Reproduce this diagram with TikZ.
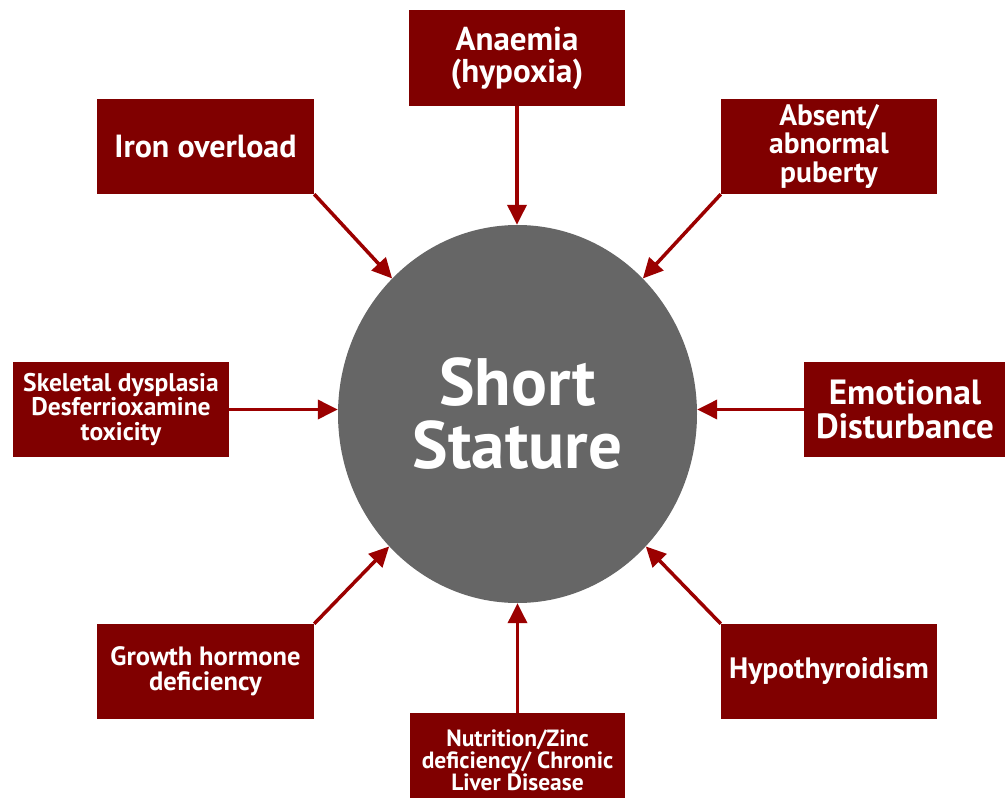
\documentclass[tikz,border=0pt]{standalone}
\usepackage{fontspec}
\setmainfont{PT Sans}
\usetikzlibrary{shapes.geometric,arrows.meta}
\definecolor{boxred}{RGB}{128,0,0}
\definecolor{arrred}{RGB}{155,0,0}
\definecolor{circgray}{RGB}{102,102,102}
\begin{document}
\begin{tikzpicture}[x=1pt,y=-1pt,
  cause/.style={fill=boxred, text=white, align=center, inner sep=0pt},
  arr/.style={draw=arrred, line width=3.5pt, -{Triangle[length=20pt,width=19pt]}},
  fs/.style 2 args={font=\fontsize{#1}{#2}\selectfont\bfseries}]
\clip (0,0) rectangle (1005,798);
\node[ellipse, fill=circgray, minimum width=359pt, minimum height=378pt, inner sep=0pt,
      text=white, align=center, fs={67}{63}] (ss) at (517.5,414) {Short\\Stature};
\node[cause, fs={33}{32}, minimum width=216pt, minimum height=96pt] (anaemia) at (517,58) {Anaemia\\(hypoxia)};
\node[cause, fs={32}{32}, minimum width=217pt, minimum height=95pt] (iron) at (205.5,146.5) {Iron overload};
\node[cause, fs={29.5}{28.5}, minimum width=216pt, minimum height=95pt] (absent) at (829,146.5) {Absent/\\abnormal\\puberty};
\node[cause, fs={25.5}{24.5}, minimum width=216pt, minimum height=95pt] (skel) at (121,409.5) {Skeletal dysplasia\\Desferrioxamine\\toxicity};
\node[cause, fs={35}{34}, minimum width=202pt, minimum height=95pt] (emot) at (905,409.5) {Emotional\\Disturbance};
\node[cause, fs={26.5}{25}, minimum width=217pt, minimum height=95pt] (growth) at (205.5,671.5) {Growth hormone\\deficiency};
\node[cause, fs={29.5}{29}, minimum width=216pt, minimum height=95pt] (hypo) at (829,671.5) {Hypothyroidism};
\node[cause, fs={23.5}{21.5}, minimum width=215pt, minimum height=95pt] (nutr) at (517.5,760.5) {Nutrition/Zinc\\deficiency/ Chronic\\Liver Disease};
\draw[arr] (anaemia.south) -- (anaemia.south |- ss.north);
\draw[arr] (iron.south east) -- (ss);
\draw[arr] (absent.south west) -- (ss);
\draw[arr] (skel.east) -- (skel.east -| ss.west);
\draw[arr] (emot.west) -- (emot.west -| ss.east);
\draw[arr] (growth.north east) -- (ss);
\draw[arr] (hypo.north west) -- (ss);
\draw[arr] (nutr.north) -- (nutr.north |- ss.south);
\end{tikzpicture}
\end{document}
